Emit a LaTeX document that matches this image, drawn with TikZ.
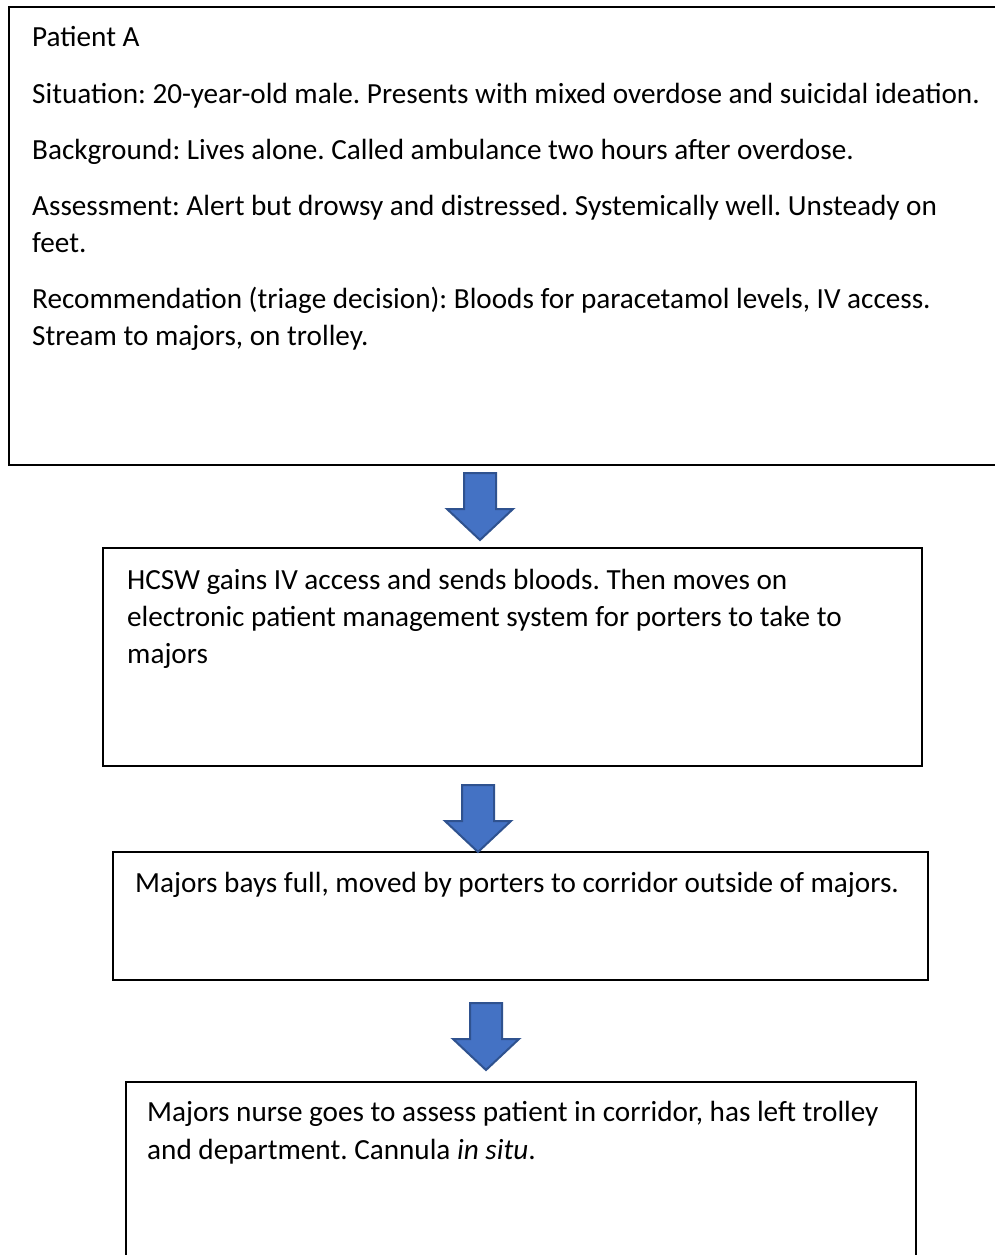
\documentclass[tikz,border=0pt]{standalone}
\usepackage{fontspec}
\setmainfont{Carlito}
\frenchspacing
\definecolor{arrowfill}{RGB}{68,114,196}
\definecolor{arrowline}{RGB}{47,82,143}
\tikzset{
  boxline/.style={draw=black, line width=2pt},
  line/.style={anchor=base west, inner sep=0pt, font=\fontsize{29.2}{37}\selectfont},
  barrow/.style={fill=arrowfill, draw=arrowline, line width=2pt, line join=miter},
}
\newcommand{\blockarrow}[4]{% name, center x, top y, tip y
  \draw[barrow] (#2-16,#3) -- (#2+16,#3) -- (#2+16,#4-31) -- (#2+33,#4-31)
    -- (#2,#4) coordinate (#1) -- (#2-33,#4-31) -- (#2-16,#4-31) -- cycle;
}
\begin{document}
\begin{tikzpicture}[x=1pt,y=-1pt]
\useasboundingbox (0,0) rectangle (995,1255);
\clip (0,0) rectangle (995,1255);
\fill[white] (0,0) rectangle (995,1255);
% boxes
\draw[boxline] (9,7) rectangle (1010,465);
\coordinate (b1) at (9,7);
\draw[boxline] (103,548) rectangle (922,766);
\coordinate (b2) at (103,548);
\draw[boxline] (113,852) rectangle (928,980);
\coordinate (b3) at (113,852);
\draw[boxline] (126,1082) rectangle (916,1275);
\coordinate (b4) at (126,1082);
% box 1 text
\node[line] (t1a) at (32,47) {Patient A};
\node[line] (t1b) at (32,103) {Situation: 20-year-old male. Presents with mixed overdose and suicidal ideation.};
\node[line] (t1c) at (32,159) {Background: Lives alone. Called ambulance two hours after overdose.};
\node[line] (t1d) at (32,215) {Assessment: Alert but drowsy and distressed. Systemically well. Unsteady on};
\node[line] (t1e) at (32,252) {feet.};
\node[line] (t1f) at (32,308) {Recommendation (triage decision): Bloods for paracetamol levels, IV access.};
\node[line] (t1g) at (32,345) {Stream to majors, on trolley.};
% box 2 text
\node[line] (t2a) at (127,589) {HCSW gains IV access and sends bloods. Then moves on};
\node[line] (t2b) at (127,626) {electronic patient management system for porters to take to};
\node[line] (t2c) at (127,663) {majors};
% box 3 text
\node[line] (t3a) at (135,892) {Majors bays full, moved by porters to corridor outside of majors.};
% box 4 text
\node[line] (t4a) at (147,1121) {Majors nurse goes to assess patient in corridor, has left trolley};
\node[line] (t4b) at (147,1159) {and department. Cannula \textit{in situ}.};
% arrows
\blockarrow{a1}{480}{473}{540}
\blockarrow{a2}{478}{785}{852}
\blockarrow{a3}{486}{1003}{1070}
\end{tikzpicture}
\end{document}
